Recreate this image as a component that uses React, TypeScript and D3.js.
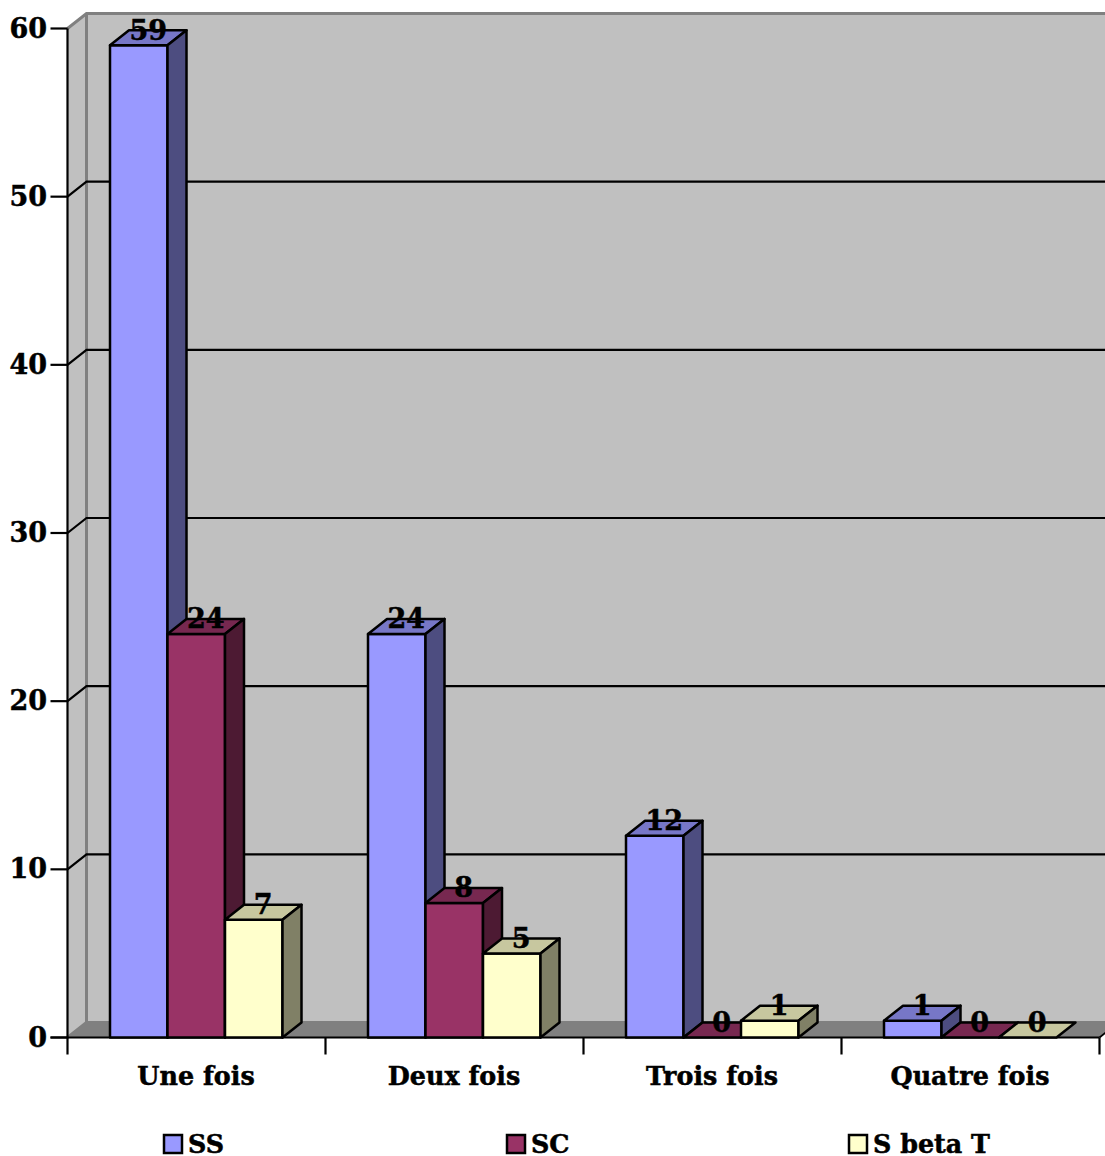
import React from "react";
import * as d3 from "d3";

const categories = ["Une fois", "Deux fois", "Trois fois", "Quatre fois"];
const seriesNames = ["SS", "SC", "S beta T"];
const ssValues = [59, 24, 12, 1];
const scValues = [24, 8, 0, 0];
const sbetaValues = [7, 5, 1, 0];
const seriesColors = ["#9999ff", "#993366", "#ffffcc"];
const yTicks = [0, 10, 20, 30, 40, 50, 60];
const legendSwatchX = [164, 507, 849];

const W = 1105;
const H = 1156;
const FONT = "'DejaVu Serif', serif";
const DX = 19;
const DY = -15;
const axisX = 67.5;
const axisEnd = axisX + 258 * 4;
const baseY = 1037.5;

const y = d3.scaleLinear().domain([0, 60]).range([baseY, 28.5]);
const x = d3.scaleBand<string>().domain(categories).range([axisX, axisEnd]).paddingInner(0).paddingOuter(0);
const barW = 57.5;
const barOffset = 42.5;

const shade = (c: string, k: number) => {
  const r = d3.rgb(c);
  return d3.rgb(r.r * k, r.g * k, r.b * k).formatHex();
};
const pts = (p: number[][]) => p.map((q) => q.join(",")).join(" ");

const allSeries = [ssValues, scValues, sbetaValues];
const heavy = { stroke: "#000", strokeWidth: 0.5 };

export default function App() {
  const topY = y(60) + DY;
  const backX = axisX + DX;
  const floorBack = baseY + DY;
  return (
    <svg width={W} height={H} viewBox={`0 0 ${W} ${H}`} style={{ position: "absolute", left: 0, top: 0, background: "#fff" }} fontFamily={FONT} fontWeight="bold">
      {/* back wall and side wall */}
      <rect x={backX} y={topY} width={W - backX} height={floorBack - topY} fill="#c0c0c0" />
      <polygon points={pts([[axisX, baseY], [backX, floorBack], [backX, topY], [axisX, y(60)]])} fill="#c0c0c0" />
      {/* floor */}
      <polygon points={pts([[axisX, baseY], [backX, floorBack], [axisEnd + DX, floorBack], [axisEnd, baseY]])} fill="#808080" />
      <path d={`M${axisX},${y(60)}L${backX},${topY}H${W}M${backX},${topY}V${floorBack}H${W}M${axisX},${baseY}L${backX},${floorBack}`} fill="none" stroke="#808080" strokeWidth={3} />

      {/* gridlines */}
      {yTicks.filter((t) => t > 0 && t < 60).map((t) => (
        <path key={t} d={`M${axisX},${y(t)}L${backX},${y(t) + DY}H${W}`} fill="none" stroke="#000" strokeWidth={2.2} />
      ))}

      {/* axes */}
      <line x1={axisX} x2={axisX} y1={y(60)} y2={baseY + 17} stroke="#000" strokeWidth={2.2} />
      <line x1={axisX - 17} x2={axisEnd} y1={baseY} y2={baseY} stroke="#000" strokeWidth={2.2} />
      <line x1={axisEnd} x2={W + 1} y1={baseY} y2={baseY + ((W + 1 - axisEnd) * DY) / DX} stroke="#000" strokeWidth={1.8} />
      {yTicks.map((t) => (
        <g key={t}>
          <line x1={axisX - 17} x2={axisX} y1={y(t)} y2={y(t)} stroke="#000" strokeWidth={2.2} />
          <text x={47} y={y(t) + 9} textAnchor="end" fontSize={27} {...heavy}>{t}</text>
        </g>
      ))}
      {categories.map((c) => (
        <g key={c}>
          <line x1={x(c)! + x.bandwidth()} x2={x(c)! + x.bandwidth()} y1={baseY} y2={baseY + 17} stroke="#000" strokeWidth={2.2} />
          <text x={x(c)! + x.bandwidth() / 2 - 0.5} y={1085} textAnchor="middle" fontSize={25.4} {...heavy}>{c}</text>
        </g>
      ))}

      {/* bars */}
      {categories.map((c, ci) =>
        allSeries.map((vals, si) => {
          const color = seriesColors[si];
          const x0 = x(c)! + barOffset + si * barW;
          const x1 = x0 + barW;
          const yv = y(vals[ci]);
          return (
            <g key={`${c}-${si}`} stroke="#000" strokeWidth={2.5} strokeLinejoin="round">
              {vals[ci] > 0 && <rect x={x0} y={yv} width={barW} height={baseY - yv} fill={color} />}
              <polygon points={pts([[x0, yv], [x0 + DX, yv + DY], [x1 + DX, yv + DY], [x1, yv]])} fill={shade(color, 0.78)} />
              {vals[ci] > 0 && <polygon points={pts([[x1, yv], [x1 + DX, yv + DY], [x1 + DX, baseY + DY], [x1, baseY]])} fill={shade(color, 0.5)} />}
            </g>
          );
        })
      )}

      {/* value labels */}
      {categories.map((c, ci) =>
        allSeries.map((vals, si) => (
          <text key={`${c}-${si}`} x={x(c)! + barOffset + si * barW + barW / 2 + 9.5} y={y(vals[ci]) - 5.5} textAnchor="middle" fontSize={27} {...heavy}>{vals[ci]}</text>
        ))
      )}

      {/* legend */}
      {seriesNames.map((n, i) => (
        <g key={n}>
          <rect x={legendSwatchX[i]} y={1135} width={18} height={18} fill={seriesColors[i]} stroke="#000" strokeWidth={2.5} />
          <text x={legendSwatchX[i] + 24} y={1152.5} fontSize={25.4} {...heavy}>{n}</text>
        </g>
      ))}
    </svg>
  );
}
